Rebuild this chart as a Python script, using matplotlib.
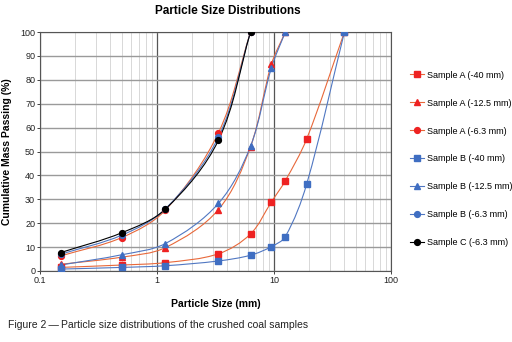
import numpy as np
import matplotlib.pyplot as plt
from matplotlib.path import Path
from matplotlib.patches import PathPatch

plt.rcParams['font.family'] = ['Liberation Sans', 'DejaVu Sans']

# sieve sizes (mm)
sizes = [0.15, 0.5, 1.18, 3.35, 6.3, 9.5, 12.5, 19, 40]

a_40 = [1.5, 2.5, 3.5, 7.2, 15.5, 28.9, 37.8, 55.2, 100]
a_125 = [2.8, 5.8, 9.8, 25.7, 52.0, 86.5, 100]
a_63 = [6.3, 14.0, 25.5, 57.8, 100]
b_40 = [0.8, 1.5, 2.2, 4.2, 6.6, 10.2, 14.4, 36.3, 100]
b_125 = [2.5, 6.8, 11.5, 28.3, 52.2, 85.0, 100]
b_63 = [7.0, 15.0, 26.0, 56.0, 100]
c_63 = [7.7, 16.0, 25.9, 54.7, 100]

labels = ["Sample A (-40 mm)", "Sample A (-12.5 mm)", "Sample A (-6.3 mm)",
          "Sample B (-40 mm)", "Sample B (-12.5 mm)", "Sample B (-6.3 mm)",
          "Sample C (-6.3 mm)"]

RED_M, RED_L = "#EE2222", "#E8683A"
BLUE_M, BLUE_L = "#3F6EC2", "#5077C2"

series = [
    (a_40, "s", RED_M, RED_L),
    (a_125, "^", RED_M, RED_L),
    (a_63, "o", RED_M, RED_L),
    (b_40, "s", BLUE_M, BLUE_L),
    (b_125, "^", BLUE_M, BLUE_L),
    (b_63, "o", BLUE_M, BLUE_L),
    (c_63, "o", "black", "black"),
]


def smooth_path(x, y):
    # smoothed line like Excel's: cubic Bezier through the points, log-x space
    lx = np.log10(x)
    ys = np.array(y, dtype=float) / 100.0 * 2.05
    pts = np.column_stack([lx, ys])
    n = len(pts)
    tang = []
    for i in range(n):
        d = pts[min(i + 1, n - 1)] - pts[max(i - 1, 0)]
        tang.append(d / np.hypot(*d))
    verts = [pts[0]]
    codes = [Path.MOVETO]
    for i in range(n - 1):
        L = np.hypot(*(pts[i + 1] - pts[i])) / 3.0
        verts += [pts[i] + tang[i] * L, pts[i + 1] - tang[i + 1] * L, pts[i + 1]]
        codes += [Path.CURVE4] * 3
    v = np.array(verts)
    v[:, 0] = 10 ** v[:, 0]
    v[:, 1] = v[:, 1] / 2.05 * 100.0
    return Path(v, codes)


fig = plt.figure(figsize=(5.12, 3.42), dpi=100)
ax = fig.add_axes([40 / 512, 1 - 271 / 342, 351 / 512, 239 / 342])
ax.set_xscale("log")
ax.set_xlim(0.1, 100)
ax.set_ylim(0, 100)

for (vals, mk, mc, lc), lab in zip(series, labels):
    xs = sizes[:len(vals)]
    ax.add_patch(PathPatch(smooth_path(xs, vals), fill=False, edgecolor=lc,
                           lw=0.8, zorder=3))
    ax.plot(xs, vals, linestyle="none", marker=mk, color=mc, markersize=4.2,
            zorder=4)
    ax.plot([], [], color=lc, lw=0.8, marker=mk, markerfacecolor=mc,
            markeredgecolor=mc, markersize=4.2, label=lab)

ax.set_yticks(range(0, 101, 10))
ax.set_xticks([0.1, 1, 10, 100])
ax.set_xticklabels(["0.1", "1", "10", "100"])
ax.grid(True, which="major", axis="y", color="#9a9a9a", lw=1.0)
ax.grid(True, which="minor", axis="x", color="#d8d8d8", lw=0.7)
ax.grid(True, which="major", axis="x", color="#555555", lw=0.9)
ax.set_axisbelow(True)
ax.tick_params(labelsize=6.5, length=2, width=0.6, pad=1.5, colors="#222222")
ax.tick_params(which="minor", length=0)
for s in ax.spines.values():
    s.set_color("#555555")
    s.set_linewidth(0.8)

ax.set_xlabel("Particle Size (mm)", fontsize=7.5, fontweight="bold", labelpad=10)
ax.set_ylabel("Cumulative Mass Passing (%)", fontsize=7.5, fontweight="bold",
              labelpad=6)
fig.text(228 / 512, 1 - 11 / 342, "Particle Size Distributions", fontsize=8.5,
         fontweight="bold", ha="center", va="center")
fig.text(8 / 512, 1 - 325 / 342,
         "Figure 2\u2009\u2014\u2009Particle size distributions of the crushed coal samples",
         fontsize=7.5, ha="left", va="center", color="#222222")

fig.legend(loc="upper left", bbox_to_anchor=(406 / 512, 1 - 67 / 342),
           frameon=False, fontsize=6.5, handlelength=1.6, handletextpad=0.3,
           labelspacing=2.1, borderaxespad=0)

fig.savefig("out.png", dpi=100)
